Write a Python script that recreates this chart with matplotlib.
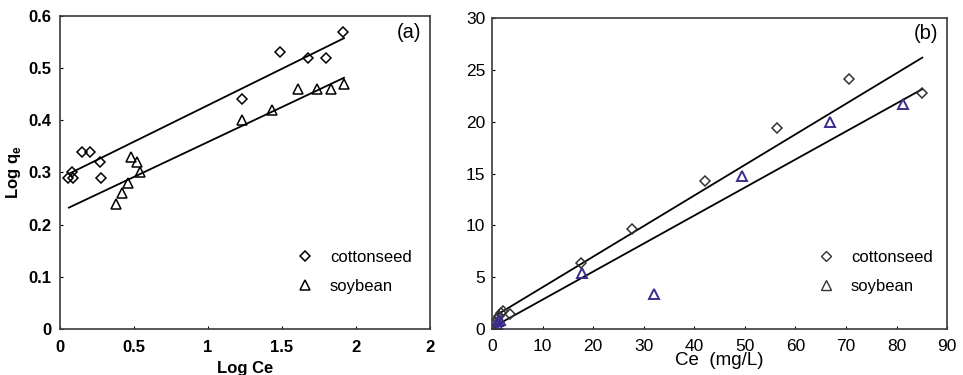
import matplotlib
matplotlib.use("Agg")
import matplotlib.pyplot as plt
import numpy as np
from matplotlib.lines import Line2D

plt.rcParams['font.family'] = ['Liberation Sans', 'DejaVu Sans']

# ---- panel (a): log-log (Freundlich) data ----
logce_cotton = [0.056, 0.078, 0.09, 0.15, 0.204, 0.27, 0.28, 1.23, 1.49, 1.68, 1.80, 1.91]
logq_cotton = [0.29, 0.30, 0.29, 0.34, 0.34, 0.32, 0.29, 0.44, 0.53, 0.52, 0.52, 0.57]
logce_soy = [0.377, 0.42, 0.457, 0.48, 0.52, 0.54, 1.23, 1.43, 1.61, 1.74, 1.83, 1.92]
logq_soy = [0.24, 0.26, 0.28, 0.33, 0.32, 0.30, 0.40, 0.42, 0.46, 0.46, 0.46, 0.47]
# fitted lines (slope, intercept) and x range
fit_a_cotton = (0.1397, 0.289)
fit_a_soy = (0.1338, 0.2245)
fit_a_range = (0.06, 1.92)

# ---- panel (b): linear data ----
ce_cotton = [0.5, 0.9, 1.3, 1.7, 2.1, 3.6, 17.6, 27.6, 42.2, 56.4, 70.6, 85.1]
q_cotton = [0.6, 1.0, 1.3, 1.5, 1.7, 1.45, 6.37, 9.65, 14.3, 19.4, 24.1, 22.8]
ce_soy = [0.3, 0.6, 0.9, 1.2, 1.5, 17.8, 32.1, 49.4, 66.8, 81.3]
q_soy = [0.1, 0.3, 0.5, 0.8, 0.9, 5.4, 3.4, 14.8, 20.0, 21.7]
fit_b_cotton = (0.295, 1.085)
fit_b_soy = (0.2705, 0.13)
fit_b_range = (1.0, 85.1)

a_xticks = [0, 0.5, 1, 1.5, 2, 2.5]
a_xticklabels = ['0', '0.5', '1', '1.5', '2', '2']
a_yticks = [0, 0.1, 0.2, 0.3, 0.4, 0.5, 0.6]
b_xticks = list(range(0, 91, 10))
b_yticks = list(range(0, 31, 5))

soy_blue = '#3b2d8c'
frame = '#3a3a3a'

fig = plt.figure(figsize=(9.63, 3.75), dpi=100)
ax1 = fig.add_axes([0.0623, 0.1227, 0.384, 0.835])
ax2 = fig.add_axes([0.511, 0.1227, 0.4725, 0.829])

# panel (a)
xs = np.array(fit_a_range)
ax1.plot(xs, fit_a_cotton[0] * xs + fit_a_cotton[1], color='black', lw=1.3)
ax1.plot(xs, fit_a_soy[0] * xs + fit_a_soy[1], color='black', lw=1.3)
ax1.plot(logce_cotton, logq_cotton, 'D', ms=4.8, mfc='none', mec='black', mew=1.1,
         label='cottonseed')
ax1.plot(logce_soy, logq_soy, '^', ms=7.2, mfc='none', mec='black', mew=1.1,
         label='soybean')
ax1.set_xlim(0, 2.5)
ax1.set_ylim(0, 0.6)
ax1.set_xticks(a_xticks)
ax1.set_xticklabels(a_xticklabels)
ax1.set_yticks(a_yticks)
ax1.set_yticklabels(['0', '0.1', '0.2', '0.3', '0.4', '0.5', '0.6'])
ax1.tick_params(direction='in', length=2.5, width=0.8, labelsize=12, pad=6)
ax1.tick_params(axis='x', pad=8)
for lab in ax1.get_xticklabels() + ax1.get_yticklabels():
    lab.set_fontweight('bold')
ax1.set_xlabel('Log Ce', fontsize=12, fontweight='bold', labelpad=4)
ax1.set_ylabel(r'Log q$_\mathregular{e}$', fontsize=12, fontweight='bold', labelpad=4)
ax1.text(0.976, 0.946, '(a)', transform=ax1.transAxes, ha='right', va='center',
         fontsize=14.5)
ax1.legend(loc='center left', bbox_to_anchor=(0.64, 0.182), frameon=False,
           numpoints=1, handlelength=1, handletextpad=1.0, labelspacing=0.85,
           borderpad=0, borderaxespad=0, fontsize=12)

# panel (b)
xs = np.array(fit_b_range)
ax2.plot(xs, fit_b_cotton[0] * xs + fit_b_cotton[1], color='black', lw=1.3)
ax2.plot(xs, fit_b_soy[0] * xs + fit_b_soy[1], color='black', lw=1.3)
ax2.plot(ce_cotton, q_cotton, 'D', ms=5, mfc='none', mec='#333333', mew=1.1)
ax2.plot(ce_soy, q_soy, '^', ms=7.8, mfc='none', mec=soy_blue, mew=1.4)
ax2.set_xlim(0, 90)
ax2.set_ylim(0, 30)
ax2.set_xticks(b_xticks)
ax2.set_yticks(b_yticks)
ax2.tick_params(direction='in', length=2.5, width=0.8, labelsize=12.5, pad=5)
ax2.tick_params(axis='x', pad=7)
ax2.set_xlabel('Ce  (mg/L)', fontsize=13.5, labelpad=-1)
ax2.text(0.98, 0.952, '(b)', transform=ax2.transAxes, ha='right', va='center',
         fontsize=14.5)
handles = [Line2D([], [], ls='none', marker='D', ms=4.6, mfc='none', mec='#333333', mew=1.0),
           Line2D([], [], ls='none', marker='^', ms=6.5, mfc='none', mec='#333333', mew=1.0)]
ax2.legend(handles, ['cottonseed', 'soybean'], loc='center left',
           bbox_to_anchor=(0.715, 0.183), frameon=False, numpoints=1,
           handlelength=1, handletextpad=1.0, labelspacing=0.85,
           borderpad=0, borderaxespad=0, fontsize=12)

for ax in (ax1, ax2):
    for sp in ax.spines.values():
        sp.set_color(frame)
        sp.set_linewidth(1.2)

fig.savefig('out.png', dpi=100)
